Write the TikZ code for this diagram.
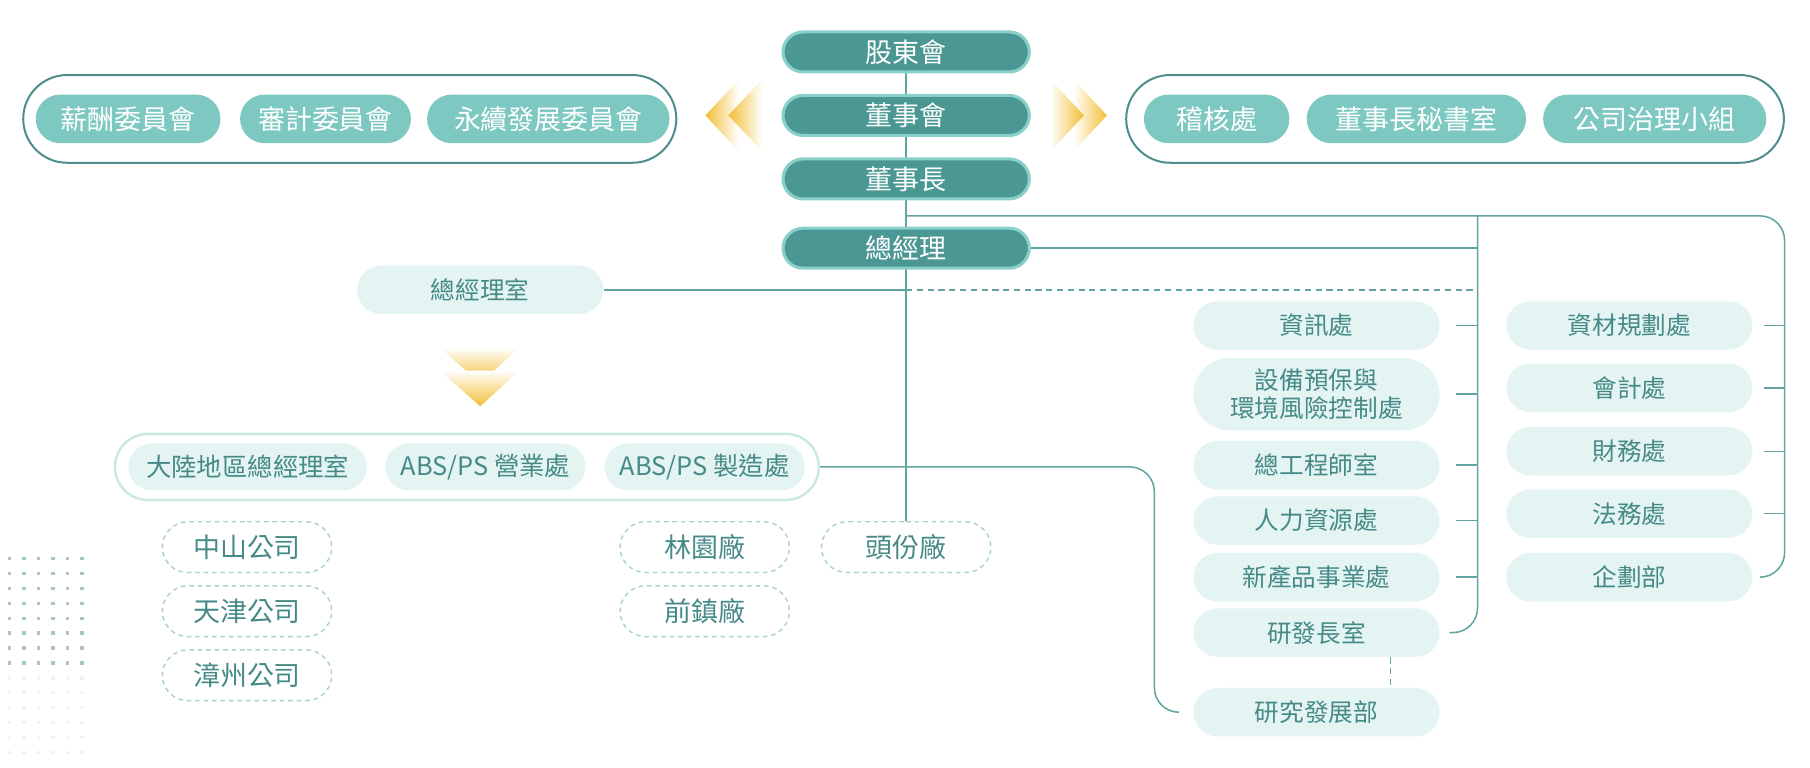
\documentclass[tikz,border=0pt]{standalone}
\usepackage{fontspec}
\newfontfamily\cjk{Noto Sans CJK TC}
\usetikzlibrary{shapes.misc,backgrounds}

\definecolor{tealdark}{HTML}{4B9794}
\definecolor{tealrim}{HTML}{8ACFC9}
\definecolor{tealmid}{HTML}{7EC8C2}
\definecolor{teallight}{HTML}{E4F4F3}
\definecolor{tealtext}{HTML}{468A87}
\definecolor{linecol}{HTML}{62A4A1}
\definecolor{grpline}{HTML}{4E8D8C}
\definecolor{absline}{HTML}{CDE7E4}
\definecolor{dashline}{HTML}{A6D2CE}
\definecolor{dotgrey}{HTML}{A9C7C4}
\definecolor{dotfaint}{HTML}{EEF4F3}
\definecolor{chevron}{HTML}{F2BE35}

\tikzset{every picture/.style={line width=0.75pt}}
\tikzset{
  darkpill/.style={rounded rectangle, fill=tealdark, draw=tealrim, line width=2pt, text=white, inner sep=0pt, minimum width=160pt, minimum height=26pt, font=\cjk\fontsize{17.5}{21}\selectfont},
  midpill/.style={rounded rectangle, fill=tealmid, text=white, inner sep=0pt, minimum height=31.5pt, font=\cjk\fontsize{17.5}{21}\selectfont},
  lightpill/.style={rounded rectangle, fill=teallight, text=tealtext, inner sep=0pt, minimum width=160pt, minimum height=31.5pt, align=center, font=\cjk\fontsize{16}{19}\selectfont},
  abspill/.style={lightpill, minimum height=30.5pt, font=\cjk\fontsize{16.5}{20}\selectfont},
  dashpill/.style={rounded rectangle, draw=dashline, dash pattern=on 3pt off 2.5pt, line width=0.9pt, text=tealtext, inner sep=0pt, minimum width=110pt, minimum height=33pt, font=\cjk\fontsize{17.5}{21}\selectfont},
  groupbox/.style={rounded rectangle, fill=white, draw=grpline, line width=1.3pt, minimum height=57pt},
  absbox/.style={rounded rectangle, fill=white, draw=absline, line width=1.6pt, minimum width=464pt, minimum height=43pt},
  connector/.style={draw=linecol, line width=1pt}
}

\begin{document}
\begin{tikzpicture}[x=0.75pt,y=0.75pt,yscale=-1,xscale=1]
\path [use as bounding box] (0,0) rectangle (1568,664.5);

%Shape: Dots
\foreach \i in {0,...,5}
  \foreach \j in {0,...,7}
    \fill [dotgrey] ({6.5+12.6*\i},{482.5+12.9*\j}) rectangle ++(3,3);
\foreach \i in {0,...,5}
  \foreach \j in {8,...,13}
    \fill [dotfaint] ({6.5+12.6*\i},{482.5+12.9*\j}) rectangle ++(3,3);

%Shape: Chevrons left
\shade [left color=chevron, right color=white] (611,100) -- (640,69) -- (640,131) -- cycle;
\shade [left color=chevron, right color=white] (631,100) -- (660,69) -- (660,131) -- cycle;
%Shape: Chevrons right
\shade [left color=white, right color=chevron] (959,100) -- (930,69) -- (930,131) -- cycle;
\shade [left color=white, right color=chevron] (939,100) -- (910,69) -- (910,131) -- cycle;
%Shape: Chevrons down
\shade [top color=white, bottom color=chevron] (381,301) -- (450,301) -- (416,332) -- cycle;
\shade [top color=white, bottom color=chevron] (381,321) -- (450,321) -- (416,352) -- cycle;

% Text Node
\draw (785,45) node [darkpill] (sh) {股東會};
% Text Node
\draw (785,100) node [darkpill] (bd) {董事會};
% Text Node
\draw (785,155) node [darkpill] (chair) {董事長};
% Text Node
\draw (785,215) node [darkpill] (gm) {總經理};

%Shape: Group left
\draw (303,103) node [groupbox, minimum width=431pt] (leftgrp) {};
\draw (111,103) node [midpill, minimum width=120pt] (pay) {薪酬委員會};
\draw (282,103) node [midpill, minimum width=111pt] (audit) {審計委員會};
\draw (475,103) node [midpill, minimum width=157.5pt] (esg) {永續發展委員會};

%Shape: Group right
\draw (1260.5,103) node [groupbox, minimum width=434pt] (rightgrp) {};
\draw (1054,103) node [midpill, minimum width=94.5pt] (inspect) {稽核處};
\draw (1227,103) node [midpill, minimum width=142.5pt] (secr) {董事長秘書室};
\draw (1433.5,103) node [midpill, minimum width=145pt] (govern) {公司治理小組};

% Text Node
\draw (416,251) node [lightpill] (gmo) {總經理室};

%Shape: Group ABS
\draw (404.5,404.5) node [absbox] (absgrp) {};
\draw (214.5,404.5) node [abspill, minimum width=155pt] (china) {大陸地區總經理室};
\draw (420.5,404.5) node [abspill, minimum width=130pt] (sales) {ABS/PS 營業處};
\draw (610.5,404.5) node [abspill, minimum width=130pt] (manuf) {ABS/PS 製造處};

% Text Node
\draw (214,474) node [dashpill] (zhongshan) {中山公司};
\draw (214,529.5) node [dashpill] (tianjin) {天津公司};
\draw (214,585) node [dashpill] (zhangzhou) {漳州公司};
\draw (610.5,474) node [dashpill] (linyuan) {林園廠};
\draw (610.5,529.5) node [dashpill] (qianzhen) {前鎮廠};
\draw (785,474) node [dashpill] (toufen) {頭份廠};

% Text Node
\draw (1140.5,282) node [lightpill] (info) {資訊處};
\draw (1140.5,341.5) node [lightpill, minimum height=47pt, font=\cjk\fontsize{16}{18.5}\selectfont] (riskctl) {設備預保與\\環境風險控制處};
\draw (1140.5,403) node [lightpill] (chiefeng) {總工程師室};
\draw (1140.5,451) node [lightpill] (hr) {人力資源處};
\draw (1140.5,500) node [lightpill] (newprod) {新產品事業處};
\draw (1140.5,548) node [lightpill] (rdchief) {研發長室};
\draw (1140.5,617) node [lightpill] (rnd) {研究發展部};

% Text Node
\draw (1411.5,282) node [lightpill] (matplan) {資材規劃處};
\draw (1411.5,336) node [lightpill] (account) {會計處};
\draw (1411.5,391) node [lightpill] (finance) {財務處};
\draw (1411.5,445) node [lightpill] (legal) {法務處};
\draw (1411.5,500) node [lightpill] (planning) {企劃部};

\begin{scope}[on background layer]
\coordinate (busA) at (1280,187);
\coordinate (busB) at (1546,187);
\coordinate (rdTurn) at (1000,404.5);
%Straight Lines
\draw [connector] (sh.south) -- (toufen.north);
\draw [connector, rounded corners=16pt, shorten >=6pt] (sh.south |- busA) -- (busB) -- (busB |- planning.east) -- (planning.east);
\draw [connector] (gm.east) -- (gm.east -| busA);
\draw [connector, rounded corners=16pt, shorten >=6pt] (busA) -- (busA |- rdchief.east) -- (rdchief.east);
\draw [connector] (gmo.east) -- (gmo.east -| sh.south);
\draw [connector, dash pattern=on 4pt off 3pt] (gmo.east -| sh.south) -- (gmo.east -| busA);
\draw [connector, rounded corners=16pt, shorten >=9pt] (absgrp.east) -- (rdTurn) -- (rdTurn |- rnd.west) -- (rnd.west);
\draw [connector, dash pattern=on 4pt off 3pt] ([xshift=48pt]rdchief.south) -- ([xshift=48pt]rnd.north);
\foreach \n in {info,riskctl,chiefeng,hr,newprod}
  \draw [connector, shorten <=10.5pt] (\n.east) -- (\n.east -| busA);
\foreach \n in {matplan,account,finance,legal}
  \draw [connector, shorten <=7pt] (\n.east) -- (\n.east -| busB);
\end{scope}

\end{tikzpicture}
\end{document}
